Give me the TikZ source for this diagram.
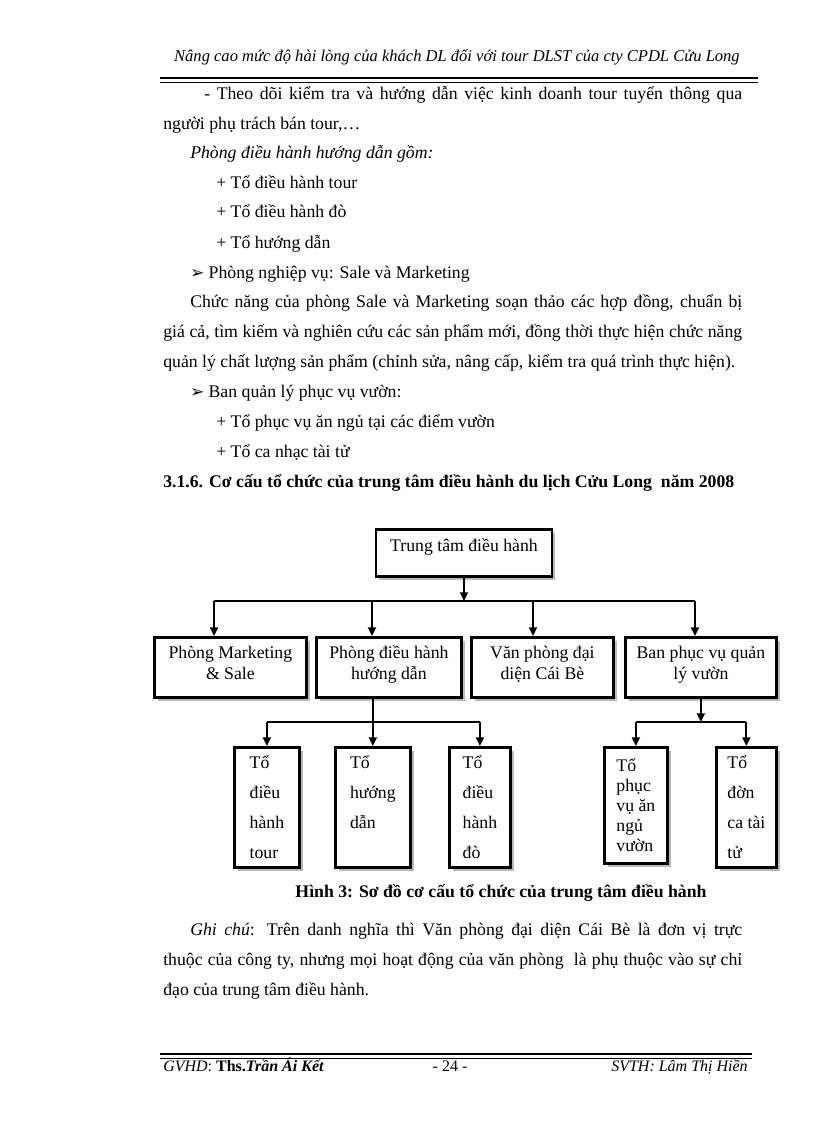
\documentclass[tikz,border=0pt]{standalone}
\usepackage{fontspec}
\setmainfont{Liberation Serif}
\newfontfamily\symfont{DejaVu Sans}
\usetikzlibrary{arrows.meta, shadows}

\begin{document}
\begin{tikzpicture}[x=0.75pt, y=-0.75pt,
  txt/.style={anchor=base west, inner sep=0pt, font=\fontsize{13.3}{15}\selectfont},
  box/.style={rectangle, draw, line width=2.1pt, fill=white, inner sep=0pt,
              drop shadow={shadow xshift=2.4pt, shadow yshift=-2.4pt, fill=gray!55, opacity=1}},
  dept/.style={box, anchor=north west, minimum height=45pt, align=center,
               text height=31.5pt, text depth=13.5pt,
               font=\fontsize{13.3}{15.75}\selectfont},
  team/.style={box, anchor=north west, minimum height=90pt, align=left,
               font=\fontsize{13.3}{22.5}\selectfont},
  arr/.style={-{Triangle[length=6.5pt, width=6pt]}, line width=1.4pt},
  ln/.style={line width=1.4pt}
]
  \fill[white] (0,0) rectangle (816,1123);
  \useasboundingbox (0,0) rectangle (816,1123);

  % header and footer
  \node[txt, anchor=base east, font=\fontsize{12.4}{15}\selectfont\itshape] (head) at (740,62)
    {Nâng cao mức độ hài lòng của khách DL đối với tour DLST của cty CPDL Cửu Long};
  \draw[line width=2.2pt] (160,78) -- (758,78);
  \draw[line width=0.7pt] (160,82) -- (758,82);
  \draw[line width=2.2pt] (160,1054) -- (752,1054);
  \draw[line width=0.7pt] (160,1058) -- (752,1058);
  \node[txt, font=\fontsize{12}{14}\selectfont] (gvhd) at (163,1071)
    {\textit{GVHD}: \textbf{Ths.\textit{Trần Ái Kết}}};
  \node[txt, anchor=base, font=\fontsize{12}{14}\selectfont] (page) at (450,1071) {- 24 -};
  \node[txt, anchor=base east, font=\fontsize{12}{14}\selectfont\itshape] (svth) at (748,1071)
    {SVTH: Lâm Thị Hiền};

  % body text
  \node[txt] (l1) at (204,100) {\makebox[403.5pt][s]{- Theo dõi kiểm tra và hướng dẫn việc kinh doanh tour tuyến thông qua}};
  \node[txt] (l2) at (163,130) {người phụ trách bán tour,…};
  \node[txt, font=\fontsize{13.3}{15}\selectfont\itshape] (l3) at (190,159) {Phòng điều hành hướng dẫn gồm:};
  \node[txt] (l4) at (216,189) {+ Tổ điều hành tour};
  \node[txt] (l5) at (216,218) {+ Tổ điều hành đò};
  \node[txt] (l6) at (216,248) {+ Tổ hướng dẫn};
  \node[txt] (l7) at (190,278) {{\symfont\fontsize{12.5}{13}\selectfont ➢} Phòng nghiệp vụ: Sale và Marketing};
  \node[txt] (l8) at (190,307) {\makebox[414pt][s]{Chức năng của phòng Sale và Marketing soạn thảo các hợp đồng, chuẩn bị}};
  \node[txt] (l9) at (163,337) {\makebox[434.25pt][s]{giá cả, tìm kiếm và nghiên cứu các sản phẩm mới, đồng thời thực hiện chức năng}};
  \node[txt] (l10) at (163,367) {quản lý chất lượng sản phẩm (chỉnh sửa, nâng cấp, kiểm tra quá trình thực hiện).};
  \node[txt] (l11) at (190,397) {{\symfont\fontsize{12.5}{13}\selectfont ➢} Ban quản lý phục vụ vườn:};
  \node[txt] (l12) at (216,427) {+ Tổ phục vụ ăn ngủ tại các điểm vườn};
  \node[txt] (l13) at (216,457) {+ Tổ ca nhạc tài tử};
  \node[txt, font=\fontsize{13.3}{15}\selectfont\bfseries] (l14) at (163,487)
    {3.1.6. Cơ cấu tổ chức của trung tâm điều hành du lịch Cửu Long \ năm 2008};

  % chart
  \node[box, anchor=north, minimum width=132pt, text height=16.5pt, text depth=18.75pt,
        font=\fontsize{13.3}{15}\selectfont] (ttdh) at (464,528) {Trung tâm điều hành};

  \node[dept, minimum width=114pt]    (pmk) at (153,636) {Phòng Marketing\\\& Sale};
  \node[dept, minimum width=108.75pt] (pdh) at (315,636) {Phòng điều hành\\hướng dẫn};
  \node[dept, minimum width=106.5pt]  (vpd) at (470,636) {Văn phòng đại\\diện Cái Bè};
  \node[dept, minimum width=113.25pt] (bpv) at (624,636) {Ban phục vụ quản\\lý vườn};

  \node[team, minimum width=48.75pt] (tdh) at (233,746) {Tổ\\điều\\hành\\tour};
  \node[team, minimum width=56.25pt] (thd) at (334,746) {Tổ\\hướng\\dẫn\\\mbox{}};
  \node[team, minimum width=45.75pt] (tdo) at (448,746) {Tổ\\điều\\hành\\đò};
  \node[team, minimum width=47.25pt, minimum height=87pt,
        font=\fontsize{13.3}{15}\selectfont] (tpv) at (603,746) {Tổ\\phục\\vụ ăn\\ngủ\\vườn};
  \node[team, minimum width=45pt] (tdc) at (715,746) {Tổ\\đờn\\ca tài\\tử};

  \coordinate (b1) at (214,601);
  \coordinate (b2) at (372,601);
  \coordinate (b3) at (533,601);
  \coordinate (b4) at (695,601);
  \draw[arr] (ttdh.south) -- (ttdh.south |- b1);
  \draw[ln] (b1) -- (b4);
  \draw[arr] (b1) -- (b1 |- pmk.north);
  \draw[arr] (b2) -- (b2 |- pdh.north);
  \draw[arr] (b3) -- (b3 |- vpd.north);
  \draw[arr] (b4) -- (b4 |- bpv.north);

  \coordinate (jl) at (372,722);
  \draw[arr] (thd.north |- pdh.south) -- (thd.north);
  \draw[ln] (tdh.north |- jl) -- (tdo.north |- jl);
  \draw[arr] (tdh.north |- jl) -- (tdh.north);
  \draw[arr] (tdo.north |- jl) -- (tdo.north);

  \coordinate (jr) at (700,722);
  \draw[arr] (bpv.south) -- (bpv.south |- jr);
  \draw[ln] (tpv.north |- jr) -- (tdc.north |- jr);
  \draw[arr] (tpv.north |- jr) -- (tpv.north);
  \draw[arr] (tdc.north |- jr) -- (tdc.north);

  \node[txt, anchor=base, font=\fontsize{13.3}{15}\selectfont\bfseries] (cap) at (501,897)
    {Hình 3: Sơ đồ cơ cấu tổ chức của trung tâm điều hành};

  % note
  \node[txt] (g1) at (190,935) {\makebox[414pt][s]{\textit{Ghi chú}: Trên danh nghĩa thì Văn phòng đại diện Cái Bè là đơn vị trực}};
  \node[txt] (g2) at (163,965) {\makebox[434.25pt][s]{thuộc của công ty, nhưng mọi hoạt động của văn phòng \ là phụ thuộc vào sự chỉ}};
  \node[txt] (g3) at (163,995) {đạo của trung tâm điều hành.};
\end{tikzpicture}
\end{document}
